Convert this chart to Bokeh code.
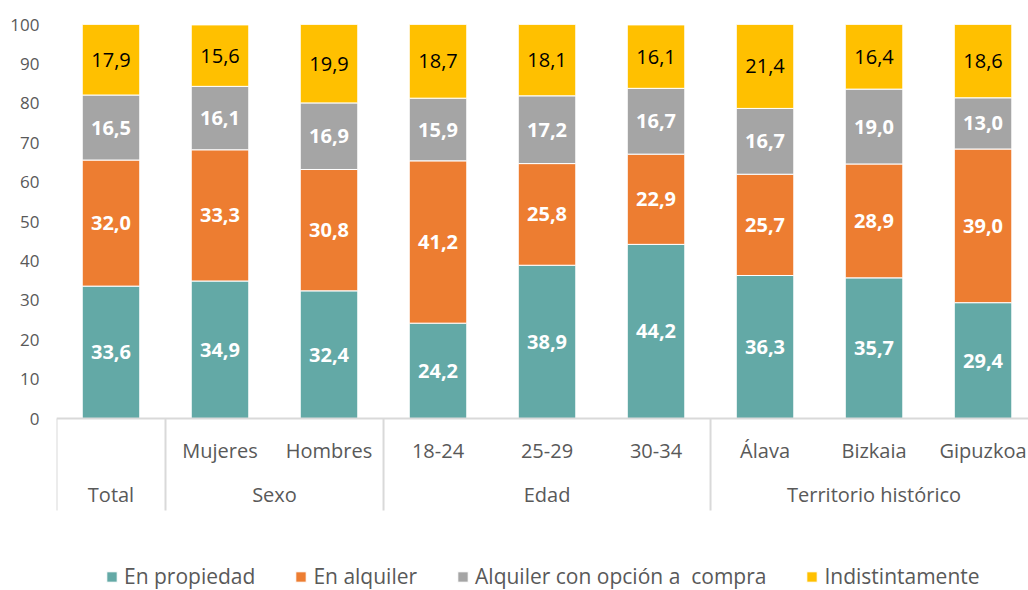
from bokeh.plotting import figure
from bokeh.models import (ColumnDataSource, Range1d, FixedTicker, LinearAxis,
                          Legend, LegendItem, Span)
from bokeh.core.properties import value
from bokeh.embed import file_html
from bokeh.resources import INLINE

categories = ["Total", "Mujeres", "Hombres", "18-24", "25-29", "30-34", "Álava", "Bizkaia", "Gipuzkoa"]
sub_labels = ["", "Mujeres", "Hombres", "18-24", "25-29", "30-34", "Álava", "Bizkaia", "Gipuzkoa"]
groups = ["Total", "Sexo", "Edad", "Territorio histórico"]
group_sizes = [1, 2, 3, 3]

series = ["En propiedad", "En alquiler", "Alquiler con opción a  compra", "Indistintamente"]
en_propiedad = [33.6, 34.9, 32.4, 24.2, 38.9, 44.2, 36.3, 35.7, 29.4]
en_alquiler = [32.0, 33.3, 30.8, 41.2, 25.8, 22.9, 25.7, 28.9, 39.0]
alquiler_opcion = [16.5, 16.1, 16.9, 15.9, 17.2, 16.7, 16.7, 19.0, 13.0]
indistintamente = [17.9, 15.6, 19.9, 18.7, 18.1, 16.1, 21.4, 16.4, 18.6]
y_ticks = list(range(0, 101, 10))

colors = ["#63A9A6", "#ED7D31", "#A5A5A5", "#FFC000"]
label_colors = ["white", "white", "white", "black"]
label_weights = ["bold", "bold", "bold", "normal"]
FONT = "Open Sans"
GRAY = "#595959"
LINE = "#D9D9D9"

# vertical layout (in value units below the zero line, 3.94 px per unit)
Y_BOTTOM = -43.65
SUB_AXIS_Y = -12.44
GROUP_AXIS_Y = -23.6
SEP_END_Y = -23.35

n = len(categories)
xs = [i + 0.5 for i in range(n)]
keys = ["s0", "s1", "s2", "s3"]
source = ColumnDataSource(dict(x=xs, s0=en_propiedad, s1=en_alquiler, s2=alquiler_opcion, s3=indistintamente))

p = figure(width=1028, height=590, output_backend="svg", toolbar_location=None,
           x_range=Range1d(0, 8.917), y_range=Range1d(Y_BOTTOM, 100),
           min_border_left=56, min_border_right=0, min_border_top=24, min_border_bottom=0)
p.outline_line_color = None
p.xgrid.grid_line_color = None
p.ygrid.grid_line_color = None

renderers = p.vbar_stack(keys, x="x", width=0.528, color=colors, source=source,
                         line_color="white", line_width=1)

# zero line and group separators
p.add_layout(Span(location=0, dimension="width", line_color=LINE, line_width=2))
starts = [0]
for s in group_sizes:
    starts.append(starts[-1] + s)
centers = [(starts[i] + starts[i + 1]) / 2 for i in range(len(groups))]
sep = starts[:-1]
p.segment(x0=sep, y0=[0] * len(sep), x1=sep, y1=[SEP_END_Y] * len(sep),
          line_color=LINE, line_width=2)

# data labels
vals = [en_propiedad, en_alquiler, alquiler_opcion, indistintamente]
bottoms = [0.0] * n
for k, v in enumerate(vals):
    mids = [bottoms[i] + v[i] / 2 for i in range(n)]
    texts = [f"{val:.1f}".replace(".", ",") for val in v]
    bottoms = [bottoms[i] + v[i] for i in range(n)]
    ls = ColumnDataSource(dict(x=xs, y=mids, t=texts))
    p.text(x="x", y="y", text="t", source=ls, text_align="center", text_baseline="middle",
           text_font=value(FONT), text_font_size="20px", text_color=label_colors[k],
           text_font_style=label_weights[k])

# y axis
p.yaxis.ticker = FixedTicker(ticks=y_ticks)
p.yaxis.axis_line_color = None
p.yaxis.major_tick_line_color = None
p.yaxis.minor_tick_line_color = None
p.yaxis.major_tick_out = 0
p.yaxis.major_label_standoff = 17
p.yaxis.major_label_text_font = FONT
p.yaxis.major_label_text_font_size = "17px"
p.yaxis.major_label_text_color = GRAY

def style_x(ax, loc):
    ax.fixed_location = loc
    ax.axis_line_color = None
    ax.major_tick_line_color = None
    ax.minor_tick_line_color = None
    ax.major_tick_out = 0
    ax.major_tick_in = 0
    ax.major_label_standoff = -31
    ax.major_label_text_font = FONT
    ax.major_label_text_font_size = "20px"
    ax.major_label_text_color = GRAY

# x axis: sub labels
xa = p.xaxis[0]
xa.ticker = FixedTicker(ticks=xs)
xa.major_label_overrides = {x: lab for x, lab in zip(xs, sub_labels)}
style_x(xa, SUB_AXIS_Y)

# group axis
ga = LinearAxis(ticker=FixedTicker(ticks=centers))
ga.major_label_overrides = {c: g for c, g in zip(centers, groups)}
style_x(ga, GROUP_AXIS_Y)
p.add_layout(ga, "below")

# legend
items = [LegendItem(label=series[k], renderers=[renderers[k]]) for k in range(4)]
legend = Legend(items=items, orientation="horizontal", location=(49, 0),
                glyph_width=13, glyph_height=13, label_standoff=6, spacing=39,
                padding=0, margin=0, border_line_color=None, background_fill_alpha=0,
                label_text_font=FONT, label_text_font_size="21px", label_text_color=GRAY)
p.add_layout(legend, "center")

open("out.html", "w").write(file_html(p, INLINE))
